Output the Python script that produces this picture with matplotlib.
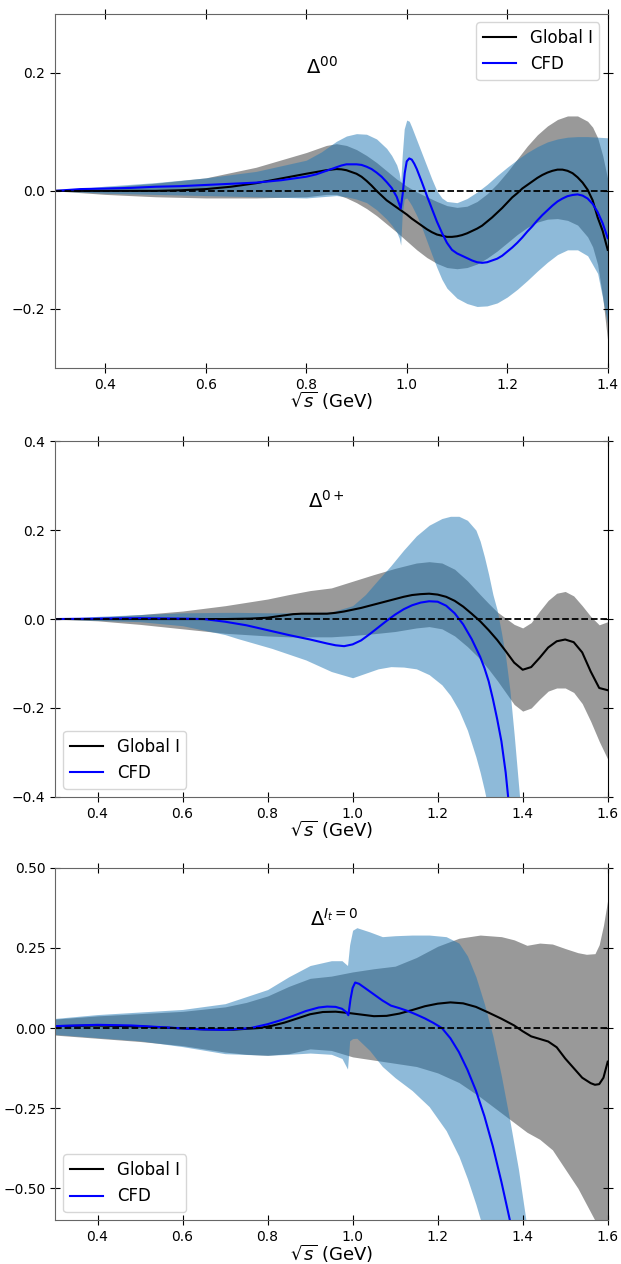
import numpy as np
import matplotlib
matplotlib.use("Agg")
import matplotlib.pyplot as plt

# ---- panel 1: Delta^00 ----
x1_glob = [0.30, 0.35, 0.40, 0.45, 0.50, 0.55, 0.60, 0.65, 0.70, 0.75, 0.80, 0.82, 0.84,
           0.86, 0.87, 0.88, 0.89, 0.90, 0.91, 0.92, 0.93, 0.94, 0.95,
           0.96, 0.97, 0.98, 0.99, 1.00, 1.01, 1.02, 1.03, 1.04, 1.05,
           1.06, 1.07, 1.08, 1.09, 1.10, 1.11, 1.12, 1.13, 1.14, 1.15,
           1.16, 1.17, 1.18, 1.19, 1.20, 1.21, 1.22, 1.23, 1.24, 1.25,
           1.26, 1.27, 1.28, 1.29, 1.30, 1.31, 1.32, 1.33, 1.34, 1.35,
           1.36, 1.37, 1.38, 1.39, 1.40]
y1_glob = [0, 0, 0, 0, 0, 0.001, 0.003, 0.007, 0.013, 0.021, 0.029, 0.032, 0.035,
           0.037, 0.0365, 0.035, 0.032, 0.029, 0.024, 0.017, 0.009, 0.000, -0.008,
           -0.016, -0.022, -0.028, -0.034, -0.040, -0.047, -0.053, -0.059, -0.065, -0.070,
           -0.074, -0.076, -0.078, -0.078, -0.077, -0.075, -0.072, -0.068, -0.064, -0.059,
           -0.052, -0.045, -0.037, -0.029, -0.020, -0.011, -0.004, 0.004, 0.010, 0.016,
           0.022, 0.027, 0.031, 0.034, 0.036, 0.036, 0.034, 0.030, 0.023, 0.014,
           0.002, -0.016, -0.045, -0.068, -0.100]
x1_cfd = [0.30, 0.35, 0.40, 0.45, 0.50, 0.55, 0.60, 0.65, 0.70, 0.75, 0.80, 0.82, 0.84,
          0.86, 0.87, 0.88, 0.89, 0.90, 0.91, 0.92, 0.93, 0.94, 0.95, 0.96, 0.97, 0.98,
          0.985, 0.988, 0.992, 0.996, 1.000, 1.005, 1.010, 1.015, 1.02, 1.03, 1.04, 1.05,
          1.06, 1.07, 1.08, 1.09, 1.10, 1.11, 1.12, 1.13, 1.14, 1.15, 1.16, 1.17, 1.18,
          1.19, 1.20, 1.21, 1.22, 1.23, 1.24, 1.25, 1.26, 1.27, 1.28, 1.29, 1.30, 1.31,
          1.32, 1.33, 1.34, 1.35, 1.36, 1.37, 1.38, 1.39, 1.40]
y1_cfd = [0, 0.003, 0.004, 0.005, 0.007, 0.008, 0.010, 0.012, 0.014, 0.018, 0.024, 0.028, 0.034,
          0.040, 0.043, 0.045, 0.045, 0.045, 0.044, 0.041, 0.037, 0.031, 0.024, 0.015, 0.005, -0.010,
          -0.022, -0.030, -0.005, 0.030, 0.050, 0.055, 0.053, 0.046, 0.037, 0.015, -0.008, -0.030,
          -0.052, -0.071, -0.088, -0.100, -0.106, -0.110, -0.114, -0.118, -0.121, -0.122, -0.121, -0.118, -0.115,
          -0.110, -0.103, -0.096, -0.088, -0.079, -0.069, -0.060, -0.050, -0.041, -0.033, -0.025, -0.018, -0.013,
          -0.009, -0.007, -0.006, -0.008, -0.013, -0.022, -0.036, -0.055, -0.080]
x1_gband = [0.30, 0.40, 0.50, 0.60, 0.70, 0.80,
            0.84, 0.86, 0.88, 0.90, 0.92, 0.94, 0.96, 0.98, 1.00,
            1.02, 1.04, 1.06, 1.08, 1.10, 1.12, 1.14, 1.16, 1.18, 1.20, 1.22, 1.24, 1.26, 1.28,
            1.30, 1.32, 1.34, 1.36, 1.37, 1.38, 1.39, 1.40]
lo1_glob = [0, -0.006, -0.010, -0.012, -0.012, -0.010,
            -0.006, -0.006, -0.012, -0.020, -0.030, -0.042, -0.056, -0.070, -0.085,
            -0.100, -0.113, -0.123, -0.130, -0.132, -0.130, -0.124, -0.114, -0.102, -0.088, -0.074,
            -0.062, -0.053, -0.048, -0.047, -0.050, -0.058, -0.078, -0.095, -0.125, -0.180, -0.255]
hi1_glob = [0, 0.006, 0.013, 0.022, 0.040, 0.065,
            0.077, 0.080, 0.077, 0.070, 0.060, 0.048, 0.034, 0.020, 0.008,
            -0.002, -0.010, -0.018, -0.025, -0.028, -0.026, -0.018, -0.005, 0.012, 0.032, 0.054,
            0.076, 0.095, 0.110, 0.121, 0.127, 0.127, 0.118, 0.108, 0.090, 0.060, 0.020]
x1_cband = [0.30, 0.40, 0.50, 0.60, 0.70, 0.80,
            0.83, 0.86, 0.88, 0.90, 0.92, 0.94, 0.96, 0.97, 0.98,
            0.985, 0.988, 0.991, 0.995, 1.000, 1.005, 1.01,
            1.02, 1.03, 1.04, 1.05, 1.06, 1.07, 1.08,
            1.10, 1.12, 1.14, 1.16, 1.18, 1.20, 1.22, 1.24, 1.26, 1.28, 1.30, 1.32, 1.34, 1.36, 1.38, 1.40]
lo1_cfd = [0, -0.004, -0.006, -0.008, -0.010, -0.012,
           -0.010, -0.008, -0.010, -0.014, -0.020, -0.032, -0.048, -0.058, -0.070,
           -0.080, -0.092, -0.040, -0.014, -0.012, -0.018, -0.025,
           -0.042, -0.062, -0.085, -0.108, -0.130, -0.150, -0.165,
           -0.182, -0.191, -0.196, -0.195, -0.190, -0.180, -0.167, -0.152, -0.136, -0.121, -0.108,
           -0.100, -0.100, -0.110, -0.140, -0.225]
hi1_cfd = [0, 0.008, 0.014, 0.022, 0.033, 0.052,
           0.066, 0.084, 0.093, 0.097, 0.096, 0.088, 0.072, 0.060, 0.044,
           0.030, 0.015, 0.060, 0.105, 0.120, 0.118, 0.108,
           0.086, 0.064, 0.042, 0.020, 0.000, -0.012, -0.018,
           -0.020, -0.013, -0.002, 0.011, 0.026, 0.040, 0.053, 0.065, 0.075, 0.083, 0.088,
           0.091, 0.092, 0.092, 0.091, 0.090]

# ---- panel 2: Delta^0+ ----
x2_glob = [0.30, 0.40, 0.50, 0.60, 0.70, 0.76, 0.80, 0.83, 0.86,
           0.88, 0.90, 0.92, 0.94, 0.96, 0.98, 1.00, 1.02, 1.04, 1.06, 1.08, 1.10, 1.12,
           1.14, 1.16, 1.18, 1.20, 1.22, 1.24, 1.26, 1.28, 1.30, 1.32, 1.34, 1.36, 1.38,
           1.40, 1.42, 1.44, 1.46, 1.48, 1.50, 1.52, 1.54, 1.56, 1.58, 1.60]
y2_glob = [0, 0, 0, 0, 0, 0.001, 0.003, 0.007, 0.011,
           0.012, 0.012, 0.012, 0.012, 0.014, 0.017, 0.021, 0.025, 0.030, 0.035, 0.040, 0.045, 0.050,
           0.054, 0.056, 0.057, 0.055, 0.050, 0.041, 0.028, 0.012, -0.005, -0.025, -0.047, -0.072, -0.098,
           -0.114, -0.108, -0.087, -0.064, -0.050, -0.046, -0.052, -0.075, -0.118, -0.155, -0.160]
x2_cfd = [0.30, 0.40, 0.50, 0.60, 0.65, 0.70, 0.75, 0.80, 0.85, 0.90, 0.94,
          0.96, 0.98, 1.00, 1.02, 1.04, 1.06, 1.08, 1.10, 1.12, 1.14, 1.16, 1.18, 1.20,
          1.22, 1.24, 1.26, 1.28, 1.30, 1.31, 1.32, 1.33, 1.34, 1.35, 1.36, 1.37]
y2_cfd = [0, 0.001, 0.002, 0.001, 0.000, -0.006, -0.014, -0.025, -0.036, -0.046, -0.055,
          -0.059, -0.061, -0.057, -0.048, -0.034, -0.019, -0.004, 0.010, 0.022, 0.031, 0.037, 0.040, 0.039,
          0.030, 0.013, -0.012, -0.045, -0.085, -0.110, -0.140, -0.180, -0.225, -0.275, -0.345, -0.440]
x2_gband = [0.30, 0.40, 0.50, 0.60, 0.70, 0.80,
            0.85, 0.90, 0.95, 1.00, 1.05, 1.10, 1.15,
            1.18, 1.21, 1.24, 1.27, 1.30,
            1.32, 1.34, 1.36, 1.38, 1.40, 1.42, 1.44, 1.46, 1.48, 1.50, 1.52, 1.54, 1.56, 1.58, 1.60]
lo2_glob = [0, -0.004, -0.012, -0.022, -0.032, -0.038,
            -0.040, -0.040, -0.040, -0.037, -0.033, -0.028, -0.020,
            -0.017, -0.022, -0.038, -0.062, -0.090,
            -0.113, -0.138, -0.165, -0.192, -0.207, -0.200, -0.180, -0.162, -0.155, -0.155, -0.165,
            -0.190, -0.230, -0.275, -0.315]
hi2_glob = [0, 0.004, 0.010, 0.018, 0.030, 0.045,
            0.055, 0.064, 0.070, 0.085, 0.100, 0.114, 0.126,
            0.129, 0.126, 0.112, 0.086, 0.055,
            0.035, 0.016, 0.002, -0.012, -0.020, -0.008, 0.018, 0.042, 0.058, 0.062, 0.052,
            0.030, 0.006, -0.013, -0.006]
x2_cband = [0.30, 0.40, 0.50, 0.60, 0.70,
            0.73, 0.81, 0.89, 0.95, 1.00,
            1.03, 1.06, 1.09, 1.12, 1.15, 1.18, 1.21,
            1.23, 1.25, 1.27, 1.29,
            1.30, 1.31, 1.32, 1.33, 1.34, 1.35, 1.36, 1.37, 1.38, 1.39, 1.40]
lo2_cfd = [0, -0.003, -0.006, -0.015, -0.035,
           -0.044, -0.066, -0.092, -0.118, -0.132,
           -0.122, -0.112, -0.107, -0.108, -0.112, -0.125, -0.148,
           -0.172, -0.205, -0.250, -0.310,
           -0.345, -0.385, -0.430, -0.480, -0.540, -0.600, -0.660, -0.720, -0.780, -0.840, -0.900]
hi2_cfd = [0, 0.006, 0.010, 0.014, 0.015,
           0.015, 0.014, 0.014, 0.016, 0.030,
           0.055, 0.088, 0.120, 0.155, 0.187, 0.211, 0.226,
           0.231, 0.231, 0.222, 0.200,
           0.175, 0.140, 0.100, 0.055, 0.020, -0.030, -0.085, -0.160, -0.260, -0.370, -0.480]

# ---- panel 3: Delta^{I_t=0} ----
x3_glob = [0.30, 0.40, 0.50, 0.58, 0.65, 0.72, 0.78,
           0.81, 0.84, 0.87, 0.90, 0.93, 0.96, 0.99, 1.02, 1.05, 1.08, 1.11, 1.14, 1.17, 1.20,
           1.23, 1.26, 1.29, 1.32, 1.35, 1.38,
           1.40, 1.42, 1.44, 1.46, 1.48, 1.50, 1.52, 1.54, 1.56, 1.57, 1.58, 1.59, 1.60]
y3_glob = [0.006, 0.008, 0.005, 0.000, -0.004, -0.005, 0.000,
           0.007, 0.017, 0.030, 0.043, 0.050, 0.051, 0.047, 0.042, 0.037, 0.038, 0.045, 0.056, 0.068, 0.076,
           0.080, 0.077, 0.066, 0.048, 0.029, 0.008,
           -0.010, -0.026, -0.034, -0.042, -0.060, -0.095, -0.125, -0.155, -0.172, -0.177, -0.175, -0.155, -0.105]
x3_cfd = [0.30, 0.40, 0.48, 0.56, 0.64, 0.70, 0.76, 0.80,
          0.83, 0.86, 0.89, 0.92, 0.94, 0.96, 0.975, 0.985,
          0.990, 0.995, 1.000, 1.006, 1.015,
          1.03, 1.05, 1.07, 1.09, 1.11, 1.13, 1.15, 1.17, 1.19, 1.21, 1.23, 1.25, 1.27, 1.29,
          1.31, 1.33, 1.35, 1.37, 1.38]
y3_cfd = [0.006, 0.010, 0.008, 0.002, -0.004, -0.006, 0.000, 0.012,
          0.024, 0.038, 0.053, 0.064, 0.067, 0.066, 0.060, 0.050,
          0.040, 0.090, 0.125, 0.142, 0.138,
          0.124, 0.105, 0.086, 0.070, 0.062, 0.053, 0.042, 0.030, 0.016, 0.000, -0.032, -0.075, -0.130,
          -0.195, -0.275, -0.370, -0.480, -0.600, -0.680]
x3_gband = [0.30, 0.40, 0.50, 0.60, 0.70, 0.75,
            0.80, 0.85, 0.90, 0.95, 1.00, 1.05, 1.10, 1.15, 1.20, 1.25, 1.30, 1.35,
            1.38, 1.41, 1.44, 1.47, 1.50, 1.53,
            1.55, 1.57, 1.58, 1.59, 1.60]
lo3_glob = [-0.022, -0.032, -0.042, -0.055, -0.075, -0.082,
            -0.085, -0.080, -0.065, -0.070, -0.090, -0.100, -0.110, -0.120, -0.140, -0.170, -0.215, -0.265,
            -0.295, -0.325, -0.347, -0.380, -0.440, -0.500,
            -0.550, -0.600, -0.625, -0.640, -0.650]
hi3_glob = [0.028, 0.038, 0.045, 0.052, 0.066, 0.080,
            0.100, 0.130, 0.155, 0.162, 0.175, 0.185, 0.193, 0.220, 0.255, 0.280, 0.290, 0.285,
            0.275, 0.258, 0.265, 0.262, 0.248, 0.235,
            0.230, 0.232, 0.260, 0.320, 0.400]
x3_cband = [0.30, 0.40, 0.50, 0.60, 0.70, 0.80, 0.85, 0.90, 0.95,
            0.975, 0.988, 0.993, 1.00, 1.01,
            1.04, 1.07, 1.10, 1.14, 1.18, 1.22,
            1.25, 1.27, 1.29, 1.31, 1.33, 1.35, 1.37, 1.39, 1.41]
lo3_cfd = [-0.020, -0.030, -0.040, -0.058, -0.080, -0.085, -0.082, -0.078, -0.082,
           -0.095, -0.128, -0.040, -0.033, -0.032,
           -0.070, -0.120, -0.155, -0.195, -0.245, -0.320,
           -0.400, -0.470, -0.550, -0.640, -0.740, -0.850, -0.950, -1.050, -1.150]
hi3_cfd = [0.030, 0.042, 0.050, 0.058, 0.076, 0.120, 0.160, 0.195, 0.210,
           0.210, 0.195, 0.260, 0.305, 0.313,
           0.300, 0.285, 0.288, 0.290, 0.290, 0.285,
           0.265, 0.225, 0.160, 0.075, -0.025, -0.150, -0.290, -0.440, -0.620]

panels = [
    dict(xg=x1_glob, yg=y1_glob, xc=x1_cfd, yc=y1_cfd,
         xgb=x1_gband, glo=lo1_glob, ghi=hi1_glob,
         xcb=x1_cband, clo=lo1_cfd, chi=hi1_cfd,
         xlim=(0.3, 1.4), ylim=(-0.3, 0.3), yticks=[-0.2, 0.0, 0.2], ytl=['\u22120.2', '0.0', '0.2'],
         label=r'$\Delta^{00}$', lpos=(0.80, 0.21), leg='upper right'),
    dict(xg=x2_glob, yg=y2_glob, xc=x2_cfd, yc=y2_cfd,
         xgb=x2_gband, glo=lo2_glob, ghi=hi2_glob,
         xcb=x2_cband, clo=lo2_cfd, chi=hi2_cfd,
         xlim=(0.3, 1.6), ylim=(-0.4, 0.4), yticks=[-0.4, -0.2, 0.0, 0.2, 0.4],
         ytl=['\u22120.4', '\u22120.2', '0.0', '0.2', '0.4'],
         label=r'$\Delta^{0+}$', lpos=(0.895, 0.265), leg='lower left'),
    dict(xg=x3_glob, yg=y3_glob, xc=x3_cfd, yc=y3_cfd,
         xgb=x3_gband, glo=lo3_glob, ghi=hi3_glob,
         xcb=x3_cband, clo=lo3_cfd, chi=hi3_cfd,
         xlim=(0.3, 1.6), ylim=(-0.6, 0.5), yticks=[-0.5, -0.25, 0.0, 0.25, 0.5],
         ytl=['\u22120.50', '\u22120.25', '0.00', '0.25', '0.50'],
         label=r'$\Delta^{I_t=0}$', lpos=(0.90, 0.34), leg='lower left'),
]

fig = plt.figure(figsize=(6.21, 12.64), dpi=100)
boxes = [(0.0886, 0.709, 0.890, 0.280),
         (0.0886, 0.3695, 0.890, 0.2815),
         (0.0886, 0.0345, 0.890, 0.2790)]

for p, box in zip(panels, boxes):
    ax = fig.add_axes(box)
    # error bands
    ax.fill_between(p['xgb'], p['glo'], p['ghi'], color='gray', alpha=0.8, lw=0)
    ax.fill_between(p['xcb'], p['clo'], p['chi'], color='tab:blue', alpha=0.5, lw=0)
    # central curves
    ax.plot(p['xg'], p['yg'], color='k', lw=1.5, label='Global I')
    ax.plot(p['xc'], p['yc'], color='b', lw=1.5, label='CFD')
    ax.axhline(0, color='k', ls='--', lw=1.3)
    ax.set_xlim(p['xlim'])
    ax.set_ylim(p['ylim'])
    ax.set_xticks(np.arange(0.4, p['xlim'][1] + 0.01, 0.2))
    ax.set_yticks(p['yticks'])
    ax.set_yticklabels(p['ytl'])
    ax.tick_params(direction='inout', top=True, right=True, length=7, labelsize=10)
    for s in ['left', 'top', 'bottom']:
        ax.spines[s].set_color('#666666')
    ax.spines['right'].set_color('k')
    ax.text(p['lpos'][0], p['lpos'][1], p['label'], fontsize=14, va='center', ha='left')
    ax.set_xlabel(r'$\sqrt{s}$ (GeV)', fontsize=13, labelpad=-1)
    ax.legend(loc=p['leg'], fontsize=12)

fig.savefig('out.png', dpi=100)
